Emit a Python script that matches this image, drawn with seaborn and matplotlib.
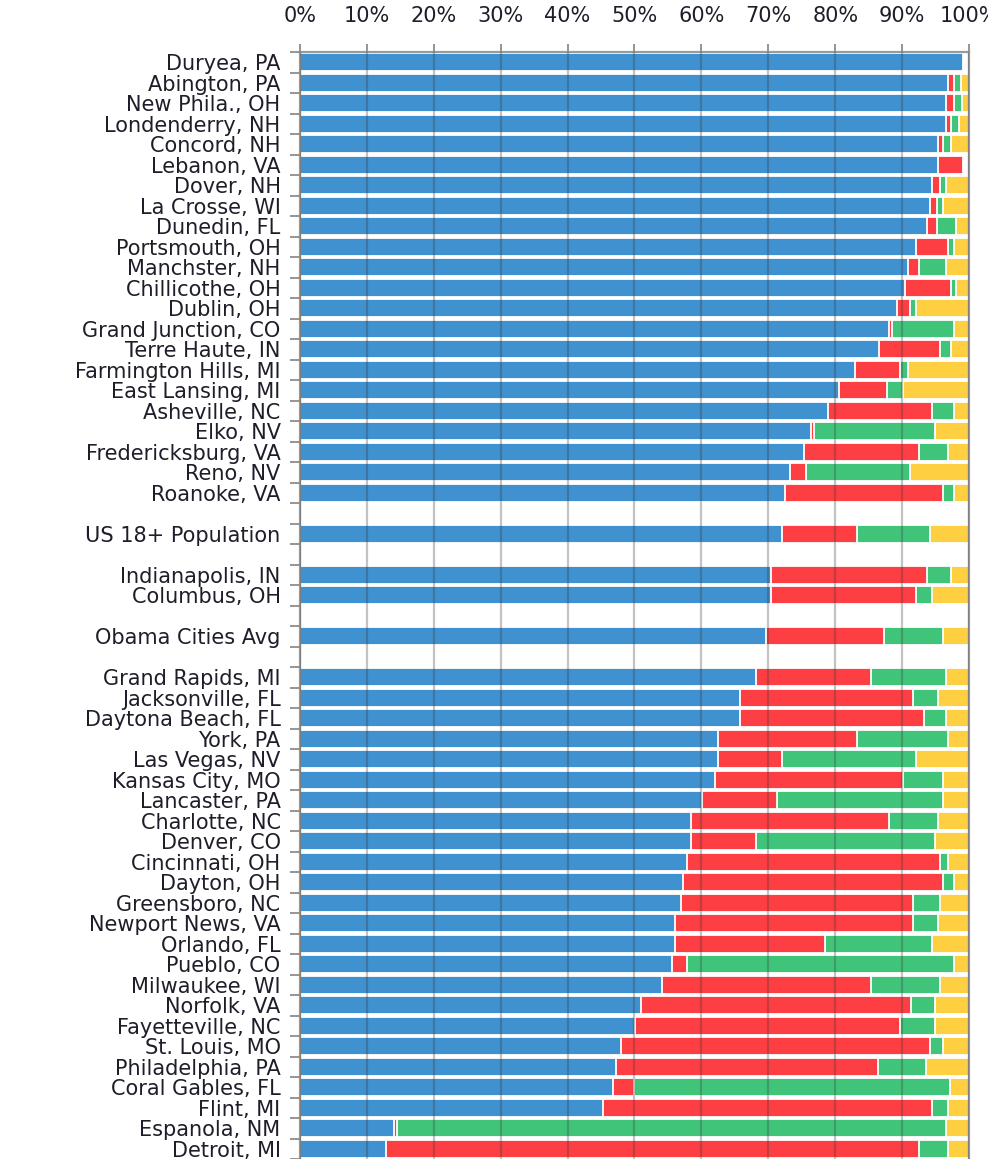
import numpy as np
import pandas as pd
import matplotlib
matplotlib.use("Agg")
import matplotlib.pyplot as plt
import seaborn as sns

# ---------------------------------------------------------------------------
# data (percent shares)
# ---------------------------------------------------------------------------
top_cities = ["Duryea, PA", "Abington, PA", "New Phila., OH", "Londenderry, NH",
              "Concord, NH", "Lebanon, VA", "Dover, NH", "La Crosse, WI",
              "Dunedin, FL", "Portsmouth, OH", "Manchster, NH", "Chillicothe, OH",
              "Dublin, OH", "Grand Junction, CO", "Terre Haute, IN",
              "Farmington Hills, MI", "East Lansing, MI", "Asheville, NC",
              "Elko, NV", "Fredericksburg, VA", "Reno, NV", "Roanoke, VA"]
us_row = ["US 18+ Population"]
mid_cities = ["Indianapolis, IN", "Columbus, OH"]
avg_row = ["Obama Cities Avg"]
low_cities = ["Grand Rapids, MI", "Jacksonville, FL", "Daytona Beach, FL", "York, PA",
              "Las Vegas, NV", "Kansas City, MO", "Lancaster, PA", "Charlotte, NC",
              "Denver, CO", "Cincinnati, OH", "Dayton, OH", "Greensboro, NC",
              "Newport News, VA", "Orlando, FL", "Pueblo, CO", "Milwaukee, WI",
              "Norfolk, VA", "Fayetteville, NC", "St. Louis, MO", "Philadelphia, PA",
              "Coral Gables, FL", "Flint, MI", "Espanola, NM", "Detroit, MI"]

blue = [99.1, 96.9, 96.5, 96.5, 95.3, 95.3, 94.5, 94.1, 93.7, 92.1, 90.9, 90.4,
        89.3, 88.1, 86.5, 82.9, 80.5, 78.9, 76.4, 75.3, 73.3, 72.5,
        72.1,
        70.4, 70.4,
        69.7,
        68.1, 65.7, 65.7, 62.5, 62.5, 62.0, 60.1, 58.5, 58.5, 57.8, 57.3, 57.0,
        56.1, 56.1, 55.6, 54.1, 50.9, 50.1, 48.0, 47.3, 46.8, 45.3, 14.0, 12.8]
red = [0.0, 0.8, 1.2, 0.8, 0.8, 3.8, 1.1, 1.1, 1.5, 4.8, 1.6, 6.9,
       1.9, 0.4, 9.2, 6.8, 7.2, 15.6, 0.5, 17.2, 2.4, 23.6,
       11.2,
       23.3, 21.7,
       17.6,
       17.2, 26.0, 27.6, 20.8, 9.6, 28.1, 11.2, 29.6, 9.6, 37.8, 38.8, 34.7,
       35.6, 22.4, 2.2, 31.2, 40.4, 39.6, 46.1, 39.1, 3.2, 49.1, 0.5, 79.7]
green = [0.0, 1.1, 1.2, 1.2, 1.2, 0.0, 0.9, 0.9, 2.9, 0.8, 4.1, 0.8,
         0.9, 9.2, 1.6, 1.2, 2.4, 3.2, 18.0, 4.4, 15.5, 1.6,
         10.8,
         3.6, 2.4,
         8.8,
         11.2, 3.6, 3.2, 13.6, 20.0, 6.0, 24.8, 7.2, 26.8, 1.3, 1.6, 4.0,
         3.6, 16.0, 39.9, 10.4, 3.6, 5.2, 2.0, 7.2, 47.2, 2.4, 82.0, 4.4]
yellow = [0.0, 1.2, 1.1, 1.5, 2.7, 0.0, 3.5, 3.9, 1.9, 2.3, 3.4, 1.9,
          7.9, 2.3, 2.7, 9.1, 9.9, 2.3, 5.1, 3.1, 8.8, 2.3,
          5.9,
          2.7, 5.5,
          3.9,
          3.5, 4.7, 3.5, 3.1, 7.9, 3.9, 3.9, 4.7, 5.1, 3.1, 2.3, 4.3,
          4.7, 5.5, 2.3, 4.3, 5.1, 5.1, 3.9, 6.4, 2.8, 3.2, 3.5, 3.1]

colors = {"blue": "#3f91cf", "red": "#fd3f43", "green": "#40c47a", "yellow": "#fecf41"}

# ---------------------------------------------------------------------------
# row order: groups separated by one empty row
# ---------------------------------------------------------------------------
groups = [top_cities, us_row, mid_cities, avg_row, low_cities]
labels = [c for g in groups for c in g]
order = []
for i, g in enumerate(groups):
    if i > 0:
        order.append(" " * i)  # blank spacer category
    order.extend(g)
n_rows = len(order)

df = pd.DataFrame({"label": labels, "blue": blue, "red": red,
                   "green": green, "yellow": yellow})
df["c_blue"] = df["blue"]
df["c_red"] = df["c_blue"] + df["red"]
df["c_green"] = df["c_red"] + df["green"]
df["c_yellow"] = df["c_green"] + df["yellow"]

# ---------------------------------------------------------------------------
# plot
# ---------------------------------------------------------------------------
sns.set_theme(style="white")
plt.rcParams["font.family"] = ["DejaVu Sans"]

fig = plt.figure(figsize=(9.88, 11.59), dpi=100)
ax = fig.add_axes([0.3036, 0.0, 0.6772, 0.9551])

# draw the cumulative layers back to front so they look stacked
for layer in ["yellow", "green", "red", "blue"]:
    sns.barplot(data=df, x="c_" + layer, y="label", order=order, orient="h",
                color=colors[layer], saturation=1, width=0.88,
                edgecolor="white", linewidth=1.3, errorbar=None, ax=ax)

ax.set_xlim(0, 100)
ax.set_ylim(n_rows - 0.5, -0.5)
ax.set_xlabel("")
ax.set_ylabel("")

# x axis on top
ax.xaxis.tick_top()
ax.set_xticks(np.arange(0, 101, 10))
ax.set_xticklabels([f"{v}%" for v in range(0, 101, 10)])
ax.tick_params(axis="x", which="major", length=6, width=1.3, color="#8c8c8c",
               pad=13, labelsize=15, labelcolor="#1e1e2a", top=True, bottom=False)

# y labels centred on rows, tick marks on row boundaries
ax.tick_params(axis="y", which="major", length=0, pad=14, labelsize=15,
               labelcolor="#1e1e2a", left=True)
ax.set_yticks(np.arange(-0.5, n_rows, 1), minor=True)
ax.tick_params(axis="y", which="minor", length=7, width=1.3, color="#8c8c8c", left=True)

# gridlines on top of the bars
ax.set_axisbelow(False)
ax.grid(axis="x", color="#3a3a3a", alpha=0.3, linewidth=1.6)
ax.grid(axis="y", visible=False)

for side in ["top", "left", "right"]:
    ax.spines[side].set_visible(True)
    ax.spines[side].set_color("#9a9a9a")
    ax.spines[side].set_linewidth(1.6)
ax.spines["bottom"].set_visible(False)

fig.savefig("out.png", dpi=100)
plt.close(fig)
